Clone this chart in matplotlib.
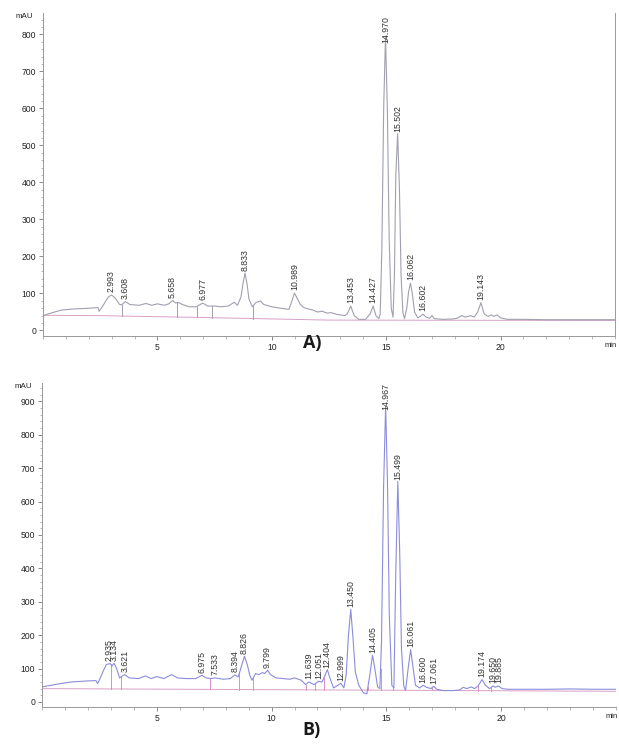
import numpy as np
import matplotlib
matplotlib.use("Agg")
import matplotlib.pyplot as plt
from matplotlib.ticker import MultipleLocator

plt.rcParams['font.family'] = ['Liberation Sans', 'DejaVu Sans']

# Panel A trace (time in min, signal in mAU)
a_time = [0.0, 0.4, 0.8, 1.3, 2.0, 2.4, 2.45, 2.55, 2.7, 2.85, 2.99, 3.15, 3.35, 3.45, 3.6, 3.8,
          4.2, 4.5, 4.75, 5.0, 5.3, 5.5, 5.66, 5.8, 5.9, 6.1, 6.4, 6.7, 6.98, 7.2, 7.5, 7.8,
          8.1, 8.35, 8.5, 8.65, 8.75, 8.83, 8.92, 9.0, 9.15, 9.3, 9.5, 9.65, 10.0, 10.4, 10.75,
          10.88, 10.99, 11.1, 11.25, 11.4, 11.6, 11.8, 12.0, 12.2, 12.4, 12.6, 12.8, 13.0, 13.2,
          13.3, 13.45, 13.6, 13.8, 14.1, 14.3, 14.43, 14.55, 14.68, 14.74, 14.81, 14.89, 14.97,
          15.05, 15.13, 15.22, 15.3, 15.36, 15.42, 15.5, 15.58, 15.65, 15.73, 15.8, 15.9, 15.98,
          16.06, 16.14, 16.24, 16.38, 16.5, 16.6, 16.75, 16.9, 17.0, 17.1, 17.5, 17.9, 18.1,
          18.3, 18.45, 18.7, 18.85, 19.0, 19.14, 19.28, 19.45, 19.6, 19.7, 19.85, 20.0, 20.3,
          21.0, 22.0, 23.0, 24.0, 25.0]
a_signal = [40, 48, 55, 58, 60, 62, 52, 60, 75, 90, 96, 88, 70, 70, 78, 70,
            68, 73, 68, 72, 68, 72, 81, 74, 76, 70, 64, 64, 74, 66, 66, 64,
            66, 76, 68, 90, 130, 155, 125, 85, 64, 75, 80, 70, 64, 60, 57,
            80, 101, 88, 70, 62, 58, 55, 50, 52, 47, 48, 44, 42, 40,
            45, 66, 40, 30, 30, 45, 66, 40, 32, 45, 220, 600, 795,
            600, 250, 60, 36, 150, 420, 532, 380, 150, 48, 32, 60, 105,
            128, 100, 50, 34, 38, 44, 36, 33, 40, 32, 30, 31, 33,
            40, 36, 40, 36, 50, 75, 45, 38, 42, 38, 42, 34, 30,
            30, 29, 29, 29, 29]
a_base_time = [0.0, 2.5, 7.0, 12.5, 25.0]
a_base_signal = [41, 40, 35, 28, 27]
a_drop_time = [3.44, 5.87, 6.71, 7.37, 9.19]
a_peak_rt = [2.993, 3.608, 5.658, 6.977, 8.833, 10.989, 13.453, 14.427, 14.970, 15.502,
             16.062, 16.602, 19.143]
a_peak_label = ["2.993", "3.608", "5.658", "6.977", "8.833", "10.989", "13.453", "14.427",
                "14.970", "15.502", "16.062", "16.602", "19.143"]

# Panel B trace
b_time = [0.0, 0.4, 0.8, 1.3, 2.0, 2.35, 2.42, 2.5, 2.65, 2.8, 2.97, 3.05, 3.14, 3.25, 3.38,
          3.5, 3.6, 3.8, 4.2, 4.5, 4.75, 5.0, 5.3, 5.65, 5.9, 6.3, 6.7, 6.97, 7.15, 7.35, 7.55,
          7.9, 8.2, 8.4, 8.55, 8.7, 8.82, 8.95, 9.05, 9.15, 9.3, 9.45, 9.6, 9.7, 9.83, 9.95,
          10.2, 10.5, 10.8, 11.0, 11.3, 11.48, 11.62, 11.85, 12.05, 12.2, 12.3, 12.43, 12.55,
          12.7, 12.85, 13.02, 13.15, 13.25, 13.35, 13.45, 13.55, 13.65, 13.8, 14.0, 14.15,
          14.28, 14.4, 14.5, 14.62, 14.72, 14.79, 14.88, 14.97, 15.05, 15.13, 15.24, 15.33,
          15.41, 15.5, 15.58, 15.66, 15.76, 15.84, 15.95, 16.06, 16.15, 16.27, 16.45, 16.6,
          16.75, 16.95, 17.06, 17.2, 17.5, 17.9, 18.2, 18.35, 18.5, 18.7, 18.85, 19.0, 19.17,
          19.32, 19.5, 19.65, 19.75, 19.88, 20.05, 20.3, 21.0, 22.0, 23.0, 24.0, 25.0]
b_signal = [45, 50, 55, 60, 63, 64, 55, 66, 90, 112, 115, 108, 116, 100, 72,
            78, 82, 72, 70, 78, 70, 76, 70, 82, 72, 70, 70, 80, 72, 70, 72,
            68, 70, 81, 75, 110, 137, 110, 80, 65, 85, 82, 88, 85, 95, 82,
            72, 70, 68, 72, 65, 52, 60, 52, 62, 60, 75, 97, 70,
            42, 48, 56, 42, 80, 200, 277, 190, 90, 50, 28, 24,
            80, 140, 100, 45, 40, 180, 640, 886, 660, 260, 50, 42,
            380, 660, 460, 160, 48, 35, 100, 157, 110, 50, 42, 50,
            44, 40, 47, 38, 34, 34, 36, 44, 40, 45, 40, 48, 67,
            50, 40, 48, 44, 48, 40, 38, 38, 38, 39, 38, 38]
b_base_time = [0.0, 25.0]
b_base_signal = [40, 32]
b_drop_time = [3.0, 3.42, 7.3, 8.6, 9.2, 11.48, 11.88, 12.28, 14.2, 14.75, 15.3, 15.82,
               17.0, 19.0, 19.55]
b_peak_rt = [2.935, 3.134, 3.621, 6.975, 7.533, 8.394, 8.826, 9.799, 11.639, 12.051, 12.404,
             12.999, 13.450, 14.405, 14.967, 15.499, 16.061, 16.600, 17.061, 19.174, 19.650,
             19.885]
b_peak_label = ["2.935", "3.134", "3.621", "6.975", "7.533", "8.394", "8.826", "9.799",
                "11.639", "12.051", "12.404", "12.999", "13.450", "14.405", "14.967",
                "15.499", "16.061", "16.600", "17.061", "19.174", "19.650", "19.885"]


def draw_panel(ax, t, s, bt, bs, drops, rts, labels, ymax, ytop, line_color, drop_color, right_spine):
    ax.plot(bt, bs, color='#d8a0c8', lw=0.7, zorder=1)
    for d in drops:
        lo = np.interp(d, bt, bs)
        hi = np.interp(d, t, s)
        ax.plot([d, d], [lo, hi], color=drop_color, lw=0.7, zorder=1)
    ax.plot(t, s, color=line_color, lw=0.8, zorder=2)
    for rt, lab in zip(rts, labels):
        apex = np.interp(rt, t, s)
        y = min(apex + 8, ymax - 80)
        ax.text(rt, y, lab, rotation=90, ha='center', va='bottom', fontsize=6.3,
                color='#333333', clip_on=False)
    ax.set_xlim(0, 25)
    ax.set_ylim(-15, ymax)
    ax.set_xticks([5, 10, 15, 20])
    ax.xaxis.set_minor_locator(MultipleLocator(1))
    ax.set_yticks(list(range(0, ytop + 1, 100)))
    ax.yaxis.set_minor_locator(MultipleLocator(20))
    ax.tick_params(which='major', length=3, width=0.6, color='#777777', labelsize=6.2,
                   labelcolor='#222222', pad=2)
    ax.tick_params(which='minor', length=1.8, width=0.5, color='#999999')
    ax.spines['top'].set_visible(False)
    ax.spines['right'].set_visible(right_spine)
    for sp in ['left', 'bottom', 'right']:
        ax.spines[sp].set_color('#999999')
        ax.spines[sp].set_linewidth(0.7)
    ax.text(-0.018, 1.0, 'mAU', transform=ax.transAxes, ha='right', va='top',
            fontsize=5.8, color='#222222')
    ax.text(1.004, -0.02, 'min', transform=ax.transAxes, ha='right', va='top',
            fontsize=5.5, color='#222222')


fig = plt.figure(figsize=(6.19, 7.49), dpi=100)
ax_a = fig.add_axes([0.0695, 0.5514, 0.924, 0.4312])
ax_b = fig.add_axes([0.0679, 0.0561, 0.927, 0.4326])

draw_panel(ax_a, a_time, a_signal, a_base_time, a_base_signal, a_drop_time, a_peak_rt,
           a_peak_label, 858, 800, '#a0a0b0', '#a0a0b0', True)
draw_panel(ax_b, b_time, b_signal, b_base_time, b_base_signal, b_drop_time, b_peak_rt,
           b_peak_label, 955, 900, '#8c8cdc', '#d890c8', False)

fig.text(0.504, 0.542, 'A)', ha='center', va='center', fontsize=13, fontweight='bold',
         family='Open Sans', color='#1a1a1a')
fig.text(0.504, 0.025, 'B)', ha='center', va='center', fontsize=13, fontweight='bold',
         family='Open Sans', color='#1a1a1a')

fig.savefig('out.png', dpi=100, facecolor='white')
